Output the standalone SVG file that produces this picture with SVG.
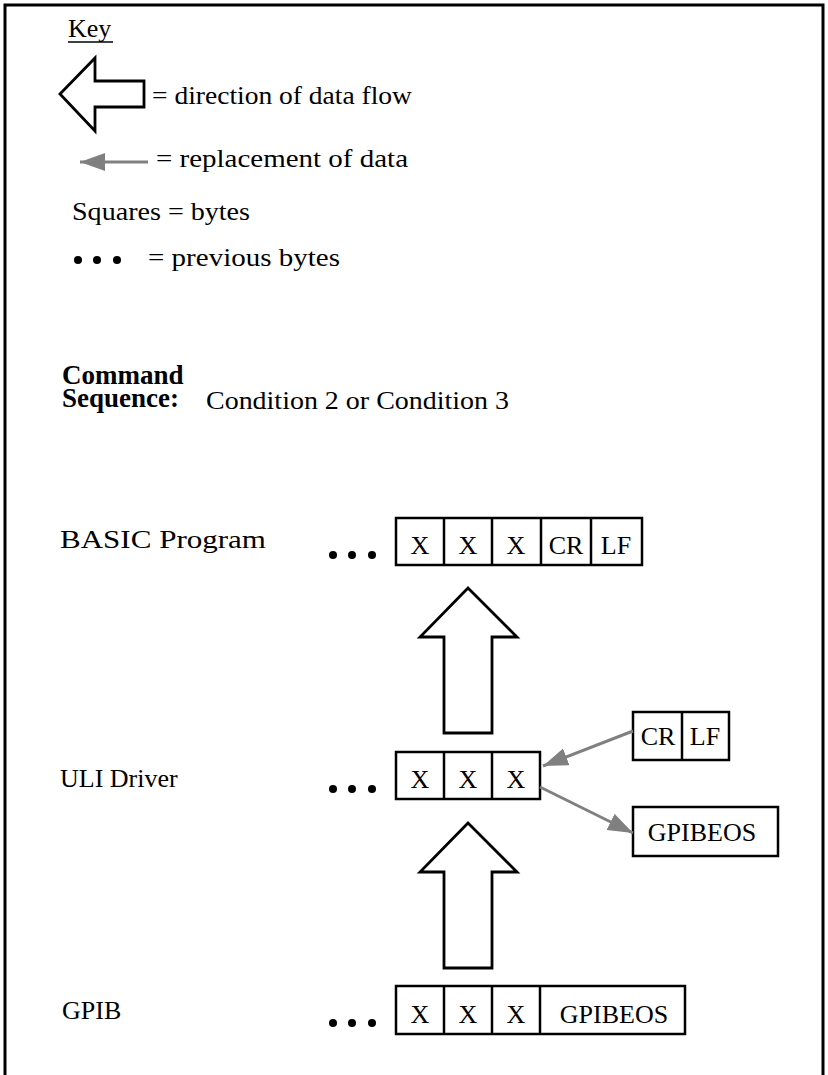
<svg xmlns="http://www.w3.org/2000/svg" width="828" height="1075" viewBox="0 0 828 1075">
<style>
.t{font-family:"Liberation Serif","Times New Roman",serif;font-size:26px;fill:#000}
.b{font-family:"Liberation Serif","Times New Roman",serif;font-size:27px;font-weight:bold;fill:#000}
.c{text-anchor:middle}
.box{fill:#fff;stroke:#000;stroke-width:2.5}
.big{fill:#fff;stroke:#000;stroke-width:2.8;stroke-linejoin:miter}
.gray{stroke:#808080;stroke-width:3;fill:none}
</style>
<defs>
<marker id="gh" markerUnits="userSpaceOnUse" markerWidth="28" markerHeight="20" refX="25" refY="9" orient="auto">
<path d="M0,0 L25,9 L0,18 z" fill="#808080"/>
</marker>
<g id="dots3"><circle cx="0" cy="0" r="4"/><circle cx="19" cy="0" r="4"/><circle cx="39" cy="0" r="4"/></g>
</defs>
<rect width="828" height="1075" fill="#fff"/>
<path d="M5,1075 V5 H823 V1075" fill="none" stroke="#000" stroke-width="3"/>

<g id="key">
<text class="t" x="68" y="37">Key</text>
<line x1="68" y1="42" x2="113" y2="42" stroke="#000" stroke-width="1.3"/>
<path class="big" d="M60,94 L95,58 L95,81 L144,81 L144,107 L95,107 L95,131 Z"/>
<text class="t" x="152" y="104" textLength="260" lengthAdjust="spacingAndGlyphs">= direction of data flow</text>
<line class="gray" x1="148" y1="162" x2="80" y2="162" marker-end="url(#gh)"/>
<text class="t" x="156" y="167" textLength="252" lengthAdjust="spacingAndGlyphs">= replacement of data</text>
<text class="t" x="72" y="220" textLength="178" lengthAdjust="spacingAndGlyphs">Squares = bytes</text>
<use href="#dots3" x="78" y="260"/>
<text class="t" x="148" y="266" textLength="192" lengthAdjust="spacingAndGlyphs">= previous bytes</text>
</g>

<g id="title">
<text class="b" x="62" y="384">Command</text>
<text class="b" x="62" y="407">Sequence:</text>
<text class="t" x="206" y="409" textLength="303" lengthAdjust="spacingAndGlyphs">Condition 2 or Condition 3</text>
</g>

<g id="basic">
<text class="t" x="60" y="548" textLength="206" lengthAdjust="spacingAndGlyphs">BASIC Program</text>
<use href="#dots3" x="333" y="555"/>
<rect class="box" x="396" y="518" width="246" height="47"/>
<line class="box" x1="444" y1="518" x2="444" y2="565"/>
<line class="box" x1="492" y1="518" x2="492" y2="565"/>
<line class="box" x1="541" y1="518" x2="541" y2="565"/>
<line class="box" x1="591" y1="518" x2="591" y2="565"/>
<text class="t c" x="420" y="554">X</text>
<text class="t c" x="468" y="554">X</text>
<text class="t c" x="516" y="554">X</text>
<text class="t c" x="566" y="554">CR</text>
<text class="t c" x="616" y="554">LF</text>
</g>

<g id="flow-upper">
<path class="big" d="M468,588 L517,637 L492,637 L492,733 L444,733 L444,637 L420,637 Z"/>
</g>

<g id="uli">
<text class="t" x="60" y="787">ULI Driver</text>
<use href="#dots3" x="333" y="789"/>
<rect class="box" x="396" y="752" width="144" height="47"/>
<line class="box" x1="444" y1="752" x2="444" y2="799"/>
<line class="box" x1="492" y1="752" x2="492" y2="799"/>
<text class="t c" x="420" y="788">X</text>
<text class="t c" x="468" y="788">X</text>
<text class="t c" x="516" y="788">X</text>
</g>

<g id="crlf">
<rect class="box" x="633" y="712" width="96" height="48"/>
<line class="box" x1="682" y1="712" x2="682" y2="760"/>
<text class="t c" x="658" y="745">CR</text>
<text class="t c" x="705" y="745">LF</text>
</g>

<g id="gpibeos-out">
<rect class="box" x="633" y="807" width="145" height="49"/>
<text class="t c" x="702" y="841">GPIBEOS</text>
</g>

<g id="flow-lower">
<path class="big" d="M468,823 L517,872 L492,872 L492,968 L444,968 L444,872 L420,872 Z"/>
</g>

<g id="gpib">
<text class="t" x="62" y="1019">GPIB</text>
<use href="#dots3" x="333" y="1023"/>
<rect class="box" x="396" y="986" width="289" height="48"/>
<line class="box" x1="444" y1="986" x2="444" y2="1034"/>
<line class="box" x1="492" y1="986" x2="492" y2="1034"/>
<line class="box" x1="540" y1="986" x2="540" y2="1034"/>
<text class="t c" x="420" y="1023">X</text>
<text class="t c" x="468" y="1023">X</text>
<text class="t c" x="516" y="1023">X</text>
<text class="t c" x="614" y="1023">GPIBEOS</text>
</g>

<g id="connectors">
<line class="gray" x1="633" y1="731" x2="543" y2="766" marker-end="url(#gh)"/>
<line class="gray" x1="540" y1="787" x2="633" y2="833" marker-end="url(#gh)"/>
</g>
</svg>
